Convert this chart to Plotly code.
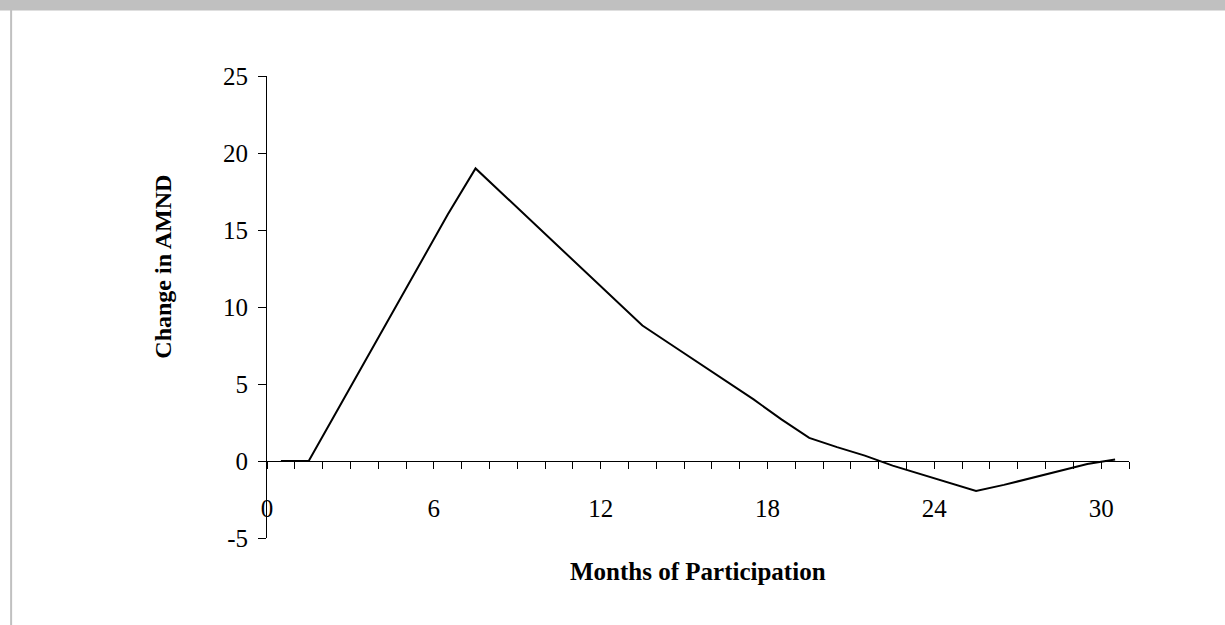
import plotly.graph_objects as go

# data
months = [0.5, 1.5, 2.5, 3.5, 4.5, 5.5, 6.5, 7.5, 8.5, 9.5, 10.5, 11.5, 12.5, 13.5, 14.5, 15.5,
          16.5, 17.5, 18.5, 19.5, 20.5, 21.5, 22.5, 23.5, 24.5, 25.5, 26.5, 27.5, 28.5, 29.5, 30.5]
change_amnd = [0, 0, 3.2, 6.4, 9.6, 12.8, 16.0, 19.0, 17.3, 15.6, 13.9, 12.2, 10.5, 8.8, 7.6, 6.4,
               5.2, 4.0, 2.7, 1.5, 0.9, 0.35, -0.3, -0.85, -1.45, -1.95, -1.55, -1.1, -0.6, -0.2, 0.1]
x_ticks = [0, 6, 12, 18, 24, 30]
y_ticks = [-5, 0, 5, 10, 15, 20, 25]
y_labels = ["-5", "0", "5", "10", "15", "20", "25"]

# plot area in pixels
L, R, T, B = 267.3, 1129, 76, 538
W, H = 1225, 625


def px(x):
    return (x - L) / (R - L)


def py(y):
    return (B - y) / (B - T)


font = "Liberation Serif, Times New Roman, serif"

fig = go.Figure()
fig.add_trace(go.Scatter(x=months, y=change_amnd, mode="lines",
                         line=dict(color="black", width=2), showlegend=False,
                         hoverinfo="skip"))

fig.update_layout(
    width=W, height=H,
    margin=dict(l=L, r=W - R, t=T, b=H - B, pad=0),
    paper_bgcolor="white", plot_bgcolor="white",
    font=dict(family=font, size=25, color="black"),
    xaxis=dict(range=[0, 31], tickvals=x_ticks, showgrid=False, zeroline=False,
               showline=True, linecolor="black", linewidth=1,
               ticks="outside", ticklen=7, tickcolor="black",
               minor=dict(dtick=1, tick0=0, ticks="outside", ticklen=7, tickcolor="black", showgrid=False),
               anchor="free", position=5 / 30, ticklabelstandoff=18,
               tickfont=dict(family=font, size=25)),
    yaxis=dict(range=[-5, 25], tickvals=y_ticks, ticktext=y_labels, showgrid=False, zeroline=False,
               showline=True, linecolor="black", linewidth=1,
               ticks="outside", ticklen=8, tickcolor="black", ticklabelstandoff=5,
               tickfont=dict(family=font, size=25)),
    annotations=[
        dict(text="<b>Months of Participation</b>", x=px(698), y=py(571), xref="paper", yref="paper",
             showarrow=False, xanchor="center", yanchor="middle", font=dict(size=25)),
        dict(text="<b>Change in AMND</b>", x=px(163), y=py(267), xref="paper", yref="paper",
             showarrow=False, xanchor="center", yanchor="middle", textangle=-90, font=dict(size=24)),
    ],
    shapes=[
        # grey frame band at the top and the thin left border
        dict(type="rect", xref="paper", yref="paper", x0=px(-5), x1=px(1240), y0=py(10.5), y1=py(-5),
             fillcolor="#c0c0c0", line=dict(width=0), layer="above"),
        dict(type="line", xref="paper", yref="paper", x0=px(11.5), x1=px(11.5), y0=py(10), y1=py(640),
             line=dict(color="#c0c0c0", width=2)),
    ],
)

fig.write_html("out.html", config={"displayModeBar": False},
               post_script="document.body.style.margin='0';")
